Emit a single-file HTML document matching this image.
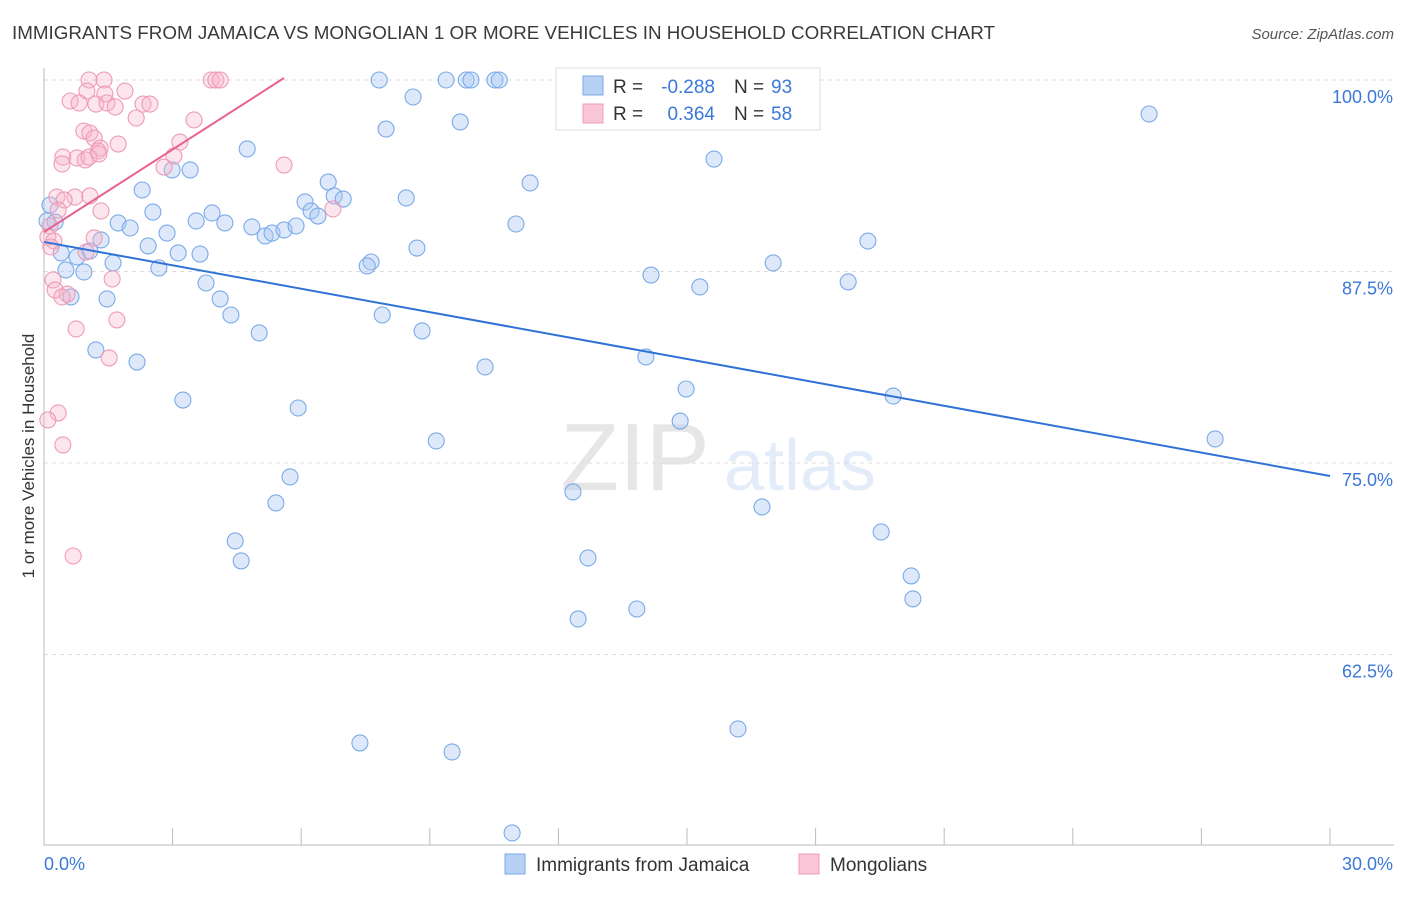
<!DOCTYPE html>
<html><head><meta charset="utf-8"><style>
body{margin:0;background:#fff;font-family:"Liberation Sans",sans-serif;}
svg text{font-family:"Liberation Sans",sans-serif;}
</style></head><body>
<svg id="chart" width="1406" height="892" viewBox="0 0 1406 892" xmlns="http://www.w3.org/2000/svg">
<text x="12" y="39" font-size="18" fill="#3a3a3a" textLength="983" lengthAdjust="spacingAndGlyphs">IMMIGRANTS FROM JAMAICA VS MONGOLIAN 1 OR MORE VEHICLES IN HOUSEHOLD CORRELATION CHART</text>
<text x="1394" y="39" font-size="15" fill="#555" text-anchor="end" font-style="italic">Source: ZipAtlas.com</text>
<g opacity="0.18">
<text x="635" y="490" font-size="96" font-family="Liberation Serif, serif" fill="#777" text-anchor="middle">ZIP</text>
<text x="800" y="490" font-size="72" fill="#6a9ae0" text-anchor="middle">atlas</text>
</g>
<g id="grid"></g>
<g id="axes"></g>
<g id="points"></g>
<g id="lines"></g>
<text transform="translate(34,456) rotate(-90)" font-size="17" fill="#333" text-anchor="middle">1 or more Vehicles in Household</text>
<g>
<rect x="556" y="68" width="264" height="62" fill="#fff" stroke="#ddd"/>
<rect x="583" y="76" width="20" height="19" fill="#b7d0f3" stroke="#7aaae8"/>
<rect x="583" y="104" width="20" height="19" fill="#f8c6d6" stroke="#ee9bb7"/>
<text x="613" y="93" font-size="19" fill="#333">R =</text>
<text x="715" y="93" font-size="19" fill="#3b78d8" text-anchor="end">-0.288</text>
<text x="734" y="93" font-size="19" fill="#333">N =</text>
<text x="771" y="93" font-size="19" fill="#3b78d8">93</text>
<text x="613" y="120" font-size="19" fill="#333">R =</text>
<text x="715" y="120" font-size="19" fill="#3b78d8" text-anchor="end">0.364</text>
<text x="734" y="120" font-size="19" fill="#333">N =</text>
<text x="771" y="120" font-size="19" fill="#3b78d8">58</text>
</g>
<g>
<rect x="505" y="854" width="20" height="20" fill="#b7d0f3" stroke="#7aaae8"/>
<text x="536" y="871" font-size="19" fill="#333">Immigrants from Jamaica</text>
<rect x="799" y="854" width="20" height="20" fill="#f8c6d6" stroke="#ee9bb7"/>
<text x="830" y="871" font-size="19" fill="#333">Mongolians</text>
</g>
</svg>
<script>
const blueX=[7.82,9.38,9.85,9.96,10.52,10.62,25.78,8.61,9.71,7.98,4.74,15.63,2.99,3.41,2.29,6.63,11.34,8.45,6.09,6.77,6.98,6.23,6.39,2.54,3.92,3.55,4.22,1.73,2.01,0.26,4.85,5.16,5.32,5.6,5.88,11.01,2.87,1.33,2.43,19.22,8.70,0.40,1.07,0.77,3.13,3.64,1.61,7.63,7.54,2.68,17.01,0.51,0.93,14.16,18.76,15.30,3.78,0.63,1.47,4.11,4.36,7.89,5.02,8.82,1.21,14.04,2.17,10.29,14.98,19.81,3.24,5.93,14.84,9.15,27.32,5.74,12.34,5.41,16.75,19.53,4.46,4.60,12.69,20.23,20.27,13.83,12.46,16.19,7.37,9.52,10.92,0.14,0.07];
const blueY=[100,100,100,100,100,100,97.78,98.89,97.26,96.8,95.5,94.84,94.13,94.13,92.82,93.34,93.28,92.3,92.04,92.43,92.23,91.45,91.12,91.38,91.32,90.8,90.67,90.67,90.34,90.73,90.41,89.82,90.01,90.21,90.47,90.6,90.01,89.56,89.17,89.49,89.03,88.71,88.84,88.45,88.71,88.64,88.06,88.12,87.86,87.73,88.06,87.6,87.47,87.27,86.82,86.49,86.75,85.84,85.71,85.71,84.66,84.66,83.49,83.62,82.38,81.92,81.59,81.27,79.83,79.37,79.11,78.59,77.74,76.44,76.57,74.09,73.11,72.39,72.13,70.5,69.91,68.61,68.8,67.63,66.13,65.47,64.82,57.64,56.73,56.14,50.85,91.84,90.8];
const pinkX=[1.05,1.40,3.90,4.01,4.11,1.0,1.42,1.89,0.61,0.82,1.21,1.47,1.66,2.31,2.47,2.15,3.50,0.93,1.07,1.17,1.73,3.17,1.31,1.26,0.44,0.77,0.96,1.05,3.03,0.42,2.80,5.60,0.30,0.72,1.07,0.47,0.33,1.33,6.74,0.14,0.09,1.17,0.23,0.16,0.98,0.21,1.59,0.26,0.54,0.42,1.70,0.75,1.52,0.33,0.09,0.44,0.68,1.28];
const pinkY=[100,100,100,100,100,99.28,99.09,99.28,98.63,98.5,98.43,98.5,98.24,98.43,98.43,97.52,97.39,96.67,96.54,96.21,95.82,95.95,95.56,95.37,94.97,94.91,94.78,94.97,95.04,94.52,94.32,94.45,92.36,92.36,92.43,92.17,91.51,91.45,91.58,90.47,89.75,89.69,89.49,89.1,88.77,86.95,87.01,86.29,86.03,85.84,84.34,83.75,81.86,78.27,77.81,76.18,68.93,95.17];
const blueTrend=[[0,89.43],[30,74.15]];
const pinkTrend=[[0,90.08],[5.6,100.13]];
const yTicks=[100,87.5,75,62.5];
const yTickLabels=["100.0%","87.5%","75.0%","62.5%"];
const xTicks=[0,3,6,9,12,15,18,21,24,27,30];
const NS="http://www.w3.org/2000/svg";
const sx=v=>44+v/30*1286;
const sy=v=>80+(100-v)/12.5*191.5;
function mk(tag,parent,attrs){const e=document.createElementNS(NS,tag);for(const k in attrs)e.setAttribute(k,attrs[k]);document.getElementById(parent).appendChild(e);return e;}
yTicks.forEach((t,i)=>{
 const l=mk('line','grid',{x1:44,x2:1394,y1:sy(t),y2:sy(t),stroke:'#ddd','stroke-dasharray':'4,4'});
 
 
 const tx=mk('text','grid',{x:1393,y:sy(t)+23,'font-size':18,fill:'#3b78d8','text-anchor':'end'});
 tx.textContent=yTickLabels[i];
 
 
});
let a=mk('line','axes',{x1:44,x2:44,y1:68,y2:845,stroke:'#bbb'});


a=mk('line','axes',{x1:44,x2:1394,y1:845,y2:845,stroke:'#bbb'});


xTicks.forEach(t=>{const k=mk('line','axes',{x1:sx(t),x2:sx(t),y1:828,y2:845,stroke:'#bbb'});
 
 });
let xl=mk('text','axes',{x:44,y:870,'font-size':18,fill:'#3b78d8'});xl.textContent='0.0%';


xl=mk('text','axes',{x:1393,y:870,'font-size':18,fill:'#3b78d8','text-anchor':'end'});xl.textContent='30.0%';


blueX.forEach((x,i)=>{const c=mk('circle','points',{cx:sx(x),cy:sy(blueY[i]),r:8,fill:'rgba(170,200,242,0.4)',stroke:'#7aaae8','stroke-width':1.1});
 
 });
pinkX.forEach((x,i)=>{const c=mk('circle','points',{cx:sx(x),cy:sy(pinkY[i]),r:8,fill:'rgba(246,180,204,0.35)',stroke:'#ee9bb7','stroke-width':1.1});
 
 });
let tl=mk('line','lines',{x1:sx(blueTrend[0][0]),y1:sy(blueTrend[0][1]),x2:sx(blueTrend[1][0]),y2:sy(blueTrend[1][1]),stroke:'#2f72d6','stroke-width':2});


tl=mk('line','lines',{x1:sx(pinkTrend[0][0]),y1:sy(pinkTrend[0][1]),x2:sx(pinkTrend[1][0]),y2:sy(pinkTrend[1][1]),stroke:'#e8628f','stroke-width':2});


</script>
</body></html>
